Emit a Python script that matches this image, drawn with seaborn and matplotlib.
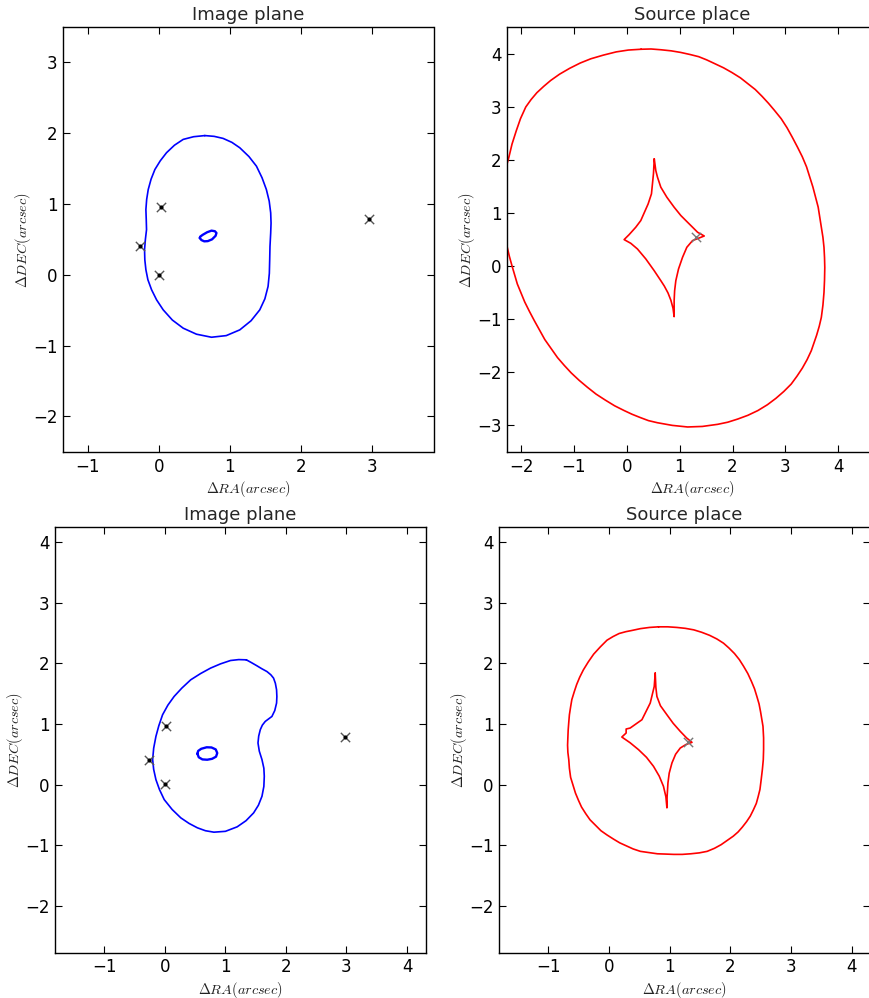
import numpy as np
import pandas as pd
import matplotlib
matplotlib.use("Agg")
import matplotlib.pyplot as plt
from matplotlib.ticker import MultipleLocator
import seaborn as sns

# ---------------- data ----------------
# Top row, image plane: critical curves
tl_outer_x = [0.648, 0.78, 0.906, 1.03, 1.141, 1.27, 1.376, 1.455, 1.516, 1.556, 1.577, 1.582, 1.577, 1.567,
              1.563, 1.558, 1.540, 1.495, 1.423, 1.30, 1.141, 0.95, 0.742, 0.53, 0.343, 0.19, 0.061, -0.032,
              -0.103, -0.155, -0.183, -0.198, -0.202, -0.19, -0.174, -0.178, -0.183, -0.172, -0.150, -0.11,
              -0.056, 0.02, 0.108, 0.22, 0.343, 0.49]
tl_outer_y = [1.966, 1.955, 1.926, 1.87, 1.794, 1.67, 1.534, 1.37, 1.204, 1.04, 0.874, 0.73, 0.590, 0.40,
              0.212, 0.02, -0.165, -0.34, -0.496, -0.65, -0.779, -0.86, -0.883, -0.84, -0.755, -0.64, -0.496,
              -0.355, -0.212, -0.07, 0.071, 0.21, 0.354, 0.50, 0.637, 0.78, 0.921, 1.065, 1.204, 1.35, 1.487,
              1.61, 1.724, 1.83, 1.912, 1.95]
tl_inner_x = [0.577, 0.60, 0.64, 0.69, 0.75, 0.80, 0.812, 0.79, 0.742, 0.68, 0.62, 0.585]
tl_inner_y = [0.519, 0.49, 0.472, 0.475, 0.50, 0.55, 0.59, 0.615, 0.623, 0.60, 0.565, 0.54]
tl_img_x = [-0.268, 0.023, 0.0, 2.958]
tl_img_y = [0.401, 0.958, 0.0, 0.788]

# Top row, source plane: caustics
tr_outer_x = [0.27, 0.46, 0.65, 0.84, 1.02, 1.20, 1.36, 1.51, 1.66, 1.83, 1.99, 2.15, 2.29, 2.43, 2.56, 2.68,
              2.79, 2.92, 3.03, 3.13, 3.23, 3.32, 3.40, 3.46, 3.52, 3.57, 3.62, 3.65, 3.68, 3.71, 3.73, 3.74,
              3.745, 3.74, 3.73, 3.71, 3.68, 3.64, 3.59, 3.49, 3.41, 3.32, 3.22, 3.11, 2.97, 2.82, 2.66, 2.48,
              2.29, 2.10, 1.91, 1.72, 1.43, 1.15, 0.86, 0.58, 0.41, 0.25, 0.10, -0.05, -0.23, -0.41, -0.58,
              -0.745, -0.90, -1.05, -1.18, -1.31, -1.43, -1.55, -1.65, -1.75, -1.84, -1.93, -2.00, -2.07,
              -2.12, -2.17, -2.22, -2.26, -2.30, -2.33, -2.35, -2.36, -2.355, -2.33, -2.29, -2.23, -2.17,
              -2.09, -2.01, -1.91, -1.81, -1.70, -1.57, -1.44, -1.27, -1.08, -0.88, -0.68, -0.44, -0.20, 0.03]
tr_outer_y = [4.09, 4.095, 4.08, 4.06, 4.03, 3.99, 3.95, 3.89, 3.82, 3.74, 3.65, 3.55, 3.44, 3.33, 3.20, 3.07,
              2.94, 2.78, 2.61, 2.43, 2.24, 2.06, 1.87, 1.68, 1.49, 1.30, 1.11, 0.92, 0.73, 0.54, 0.35, 0.16,
              -0.03, -0.27, -0.50, -0.74, -0.97, -1.14, -1.31, -1.60, -1.77, -1.93, -2.08, -2.23, -2.37, -2.50,
              -2.62, -2.73, -2.82, -2.89, -2.95, -2.99, -3.03, -3.04, -3.01, -2.96, -2.92, -2.86, -2.80, -2.73,
              -2.64, -2.53, -2.42, -2.29, -2.16, -2.02, -1.88, -1.73, -1.56, -1.39, -1.21, -1.03, -0.86, -0.68,
              -0.51, -0.34, -0.17, 0.0, 0.18, 0.35, 0.55, 0.75, 0.95, 1.15, 1.38, 1.60, 1.83, 2.05, 2.30, 2.55,
              2.78, 3.00, 3.14, 3.27, 3.39, 3.50, 3.62, 3.73, 3.83, 3.91, 3.98, 4.04, 4.075]
tr_inner_x = [0.52, 0.549, 0.581, 0.644, 0.758, 0.896, 1.023, 1.149, 1.25, 1.339, 1.465, 1.244, 1.136, 1.055,
              0.979, 0.928, 0.905, 0.896, 0.896, 0.875, 0.835, 0.78, 0.71, 0.644, 0.518, 0.36, 0.202, 0.076,
              -0.05, 0.044, 0.17, 0.265, 0.404, 0.467, 0.505]
tr_inner_y = [2.02, 1.80, 1.675, 1.486, 1.297, 1.108, 0.951, 0.825, 0.725, 0.636, 0.565, 0.478, 0.352, 0.163,
              -0.057, -0.278, -0.47, -0.656, -0.958, -0.80, -0.65, -0.51, -0.38, -0.278, -0.089, 0.132, 0.32,
              0.427, 0.497, 0.59, 0.73, 0.856, 1.17, 1.36, 1.74]
tr_src_x = [1.31]
tr_src_y = [0.555]

# Bottom row, image plane
bl_outer_x = [1.346, 1.43, 1.522, 1.60, 1.686, 1.75, 1.795, 1.825, 1.845, 1.85, 1.845, 1.815, 1.768, 1.71,
              1.658, 1.61, 1.576, 1.55, 1.538, 1.56, 1.604, 1.635, 1.642, 1.635, 1.604, 1.545, 1.466, 1.34,
              1.194, 1.0, 0.81, 0.67, 0.537, 0.40, 0.263, 0.12, -0.011, -0.09, -0.148, -0.185, -0.202, -0.185,
              -0.148, -0.10, -0.038, 0.05, 0.153, 0.28, 0.427, 0.59, 0.755, 0.92, 1.084, 1.22]
bl_outer_y = [2.056, 2.01, 1.957, 1.91, 1.863, 1.81, 1.755, 1.67, 1.562, 1.45, 1.344, 1.22, 1.123, 1.08, 1.041,
              0.98, 0.905, 0.80, 0.686, 0.55, 0.411, 0.27, 0.137, -0.03, -0.192, -0.34, -0.466, -0.595, -0.696,
              -0.77, -0.784, -0.76, -0.712, -0.64, -0.548, -0.41, -0.247, -0.08, 0.082, 0.25, 0.411, 0.60,
              0.794, 0.97, 1.151, 1.31, 1.453, 1.59, 1.727, 1.83, 1.92, 1.99, 2.045, 2.06]
bl_inner_x = [0.537, 0.56, 0.62, 0.70, 0.78, 0.845, 0.865, 0.84, 0.77, 0.69, 0.60, 0.55]
bl_inner_y = [0.51, 0.45, 0.415, 0.41, 0.425, 0.46, 0.52, 0.58, 0.612, 0.615, 0.59, 0.555]
bl_img_x = [-0.258, 0.016, 0.0, 2.97]
bl_img_y = [0.41, 0.96, 0.01, 0.79]

# Bottom row, source plane
br_outer_x = [0.82, 0.97, 1.12, 1.26, 1.40, 1.53, 1.66, 1.78, 1.89, 1.98, 2.07, 2.15, 2.22, 2.29, 2.35, 2.40,
              2.44, 2.475, 2.50, 2.52, 2.54, 2.55, 2.55, 2.545, 2.53, 2.51, 2.49, 2.46, 2.43, 2.38, 2.33, 2.27,
              2.20, 2.13, 2.05, 1.95, 1.85, 1.74, 1.62, 1.49, 1.35, 1.21, 1.07, 0.94, 0.80, 0.66, 0.52, 0.40,
              0.29, 0.18, 0.08, -0.03, -0.13, -0.22, -0.31, -0.38, -0.45, -0.50, -0.55, -0.59, -0.63, -0.65,
              -0.66, -0.675, -0.68, -0.675, -0.67, -0.66, -0.65, -0.63, -0.61, -0.57, -0.53, -0.48, -0.42,
              -0.34, -0.25, -0.14, -0.03, 0.07, 0.17, 0.28, 0.38, 0.52, 0.67]
br_outer_y = [2.60, 2.60, 2.59, 2.575, 2.55, 2.51, 2.46, 2.40, 2.33, 2.25, 2.16, 2.06, 1.95, 1.83, 1.70, 1.58,
              1.45, 1.33, 1.20, 1.08, 0.96, 0.77, 0.58, 0.41, 0.25, 0.08, -0.08, -0.20, -0.31, -0.42, -0.52,
              -0.61, -0.70, -0.78, -0.85, -0.92, -0.99, -1.05, -1.10, -1.125, -1.14, -1.15, -1.15, -1.145,
              -1.14, -1.12, -1.10, -1.06, -1.01, -0.96, -0.90, -0.83, -0.76, -0.67, -0.58, -0.48, -0.37, -0.26,
              -0.14, -0.01, 0.12, 0.27, 0.41, 0.53, 0.65, 0.78, 0.90, 1.03, 1.15, 1.28, 1.40, 1.53, 1.65, 1.77,
              1.89, 2.02, 2.15, 2.27, 2.38, 2.44, 2.49, 2.52, 2.54, 2.57, 2.59]
br_inner_x = [0.764, 0.775, 0.792, 0.85, 0.957, 1.06, 1.177, 1.28, 1.37, 1.27, 1.177, 1.10, 1.04, 0.995, 0.974,
              0.96, 0.957, 0.94, 0.90, 0.83, 0.736, 0.62, 0.489, 0.35, 0.214, 0.285, 0.285, 0.351, 0.545, 0.682,
              0.748]
br_inner_y = [1.837, 1.60, 1.452, 1.30, 1.151, 1.01, 0.877, 0.77, 0.696, 0.66, 0.603, 0.50, 0.357, 0.19, 0.028,
              -0.20, -0.383, -0.20, -0.028, 0.14, 0.301, 0.45, 0.576, 0.69, 0.784, 0.85, 0.916, 0.932, 1.069,
              1.344, 1.617]
br_src_x = [1.31]
br_src_y = [0.71]

titles = ["Image plane", "Source place", "Image plane", "Source place"]
xlabel = r"$\Delta RA(arcsec)$"
ylabel = r"$\Delta DEC(arcsec)$"

# ---------------- style ----------------
sns.set_style("white")
plt.rcParams.update({
    "font.family": ["DejaVu Sans"],
    "mathtext.fontset": "cm",
    "axes.edgecolor": "black",
    "axes.linewidth": 1.0,
    "xtick.color": "black",
    "ytick.color": "black",
})

fig = plt.figure(figsize=(8.69, 9.98), dpi=100)

W, H = 869.0, 998.0


def make_ax(left_px, top_px, xlim, ylim):
    ax = fig.add_axes([left_px / W, 1 - (top_px + 425.4) / H, 370.5 / W, 425.4 / H])
    ax.set_xlim(*xlim)
    ax.set_ylim(*ylim)
    ax.xaxis.set_major_locator(MultipleLocator(1))
    ax.yaxis.set_major_locator(MultipleLocator(1))
    ax.tick_params(direction="in", top=True, right=True, length=5, width=0.8,
                   labelsize=12, pad=4, bottom=True, left=True)
    for s in ax.spines.values():
        s.set_visible(True)
        s.set_color("black")
        s.set_linewidth(1.0)
    return ax


def closed(ax, xs, ys, color, lw):
    x = np.append(np.asarray(xs, float), xs[0])
    y = np.append(np.asarray(ys, float), ys[0])
    sns.lineplot(x=x, y=y, sort=False, estimator=None, color=color, lw=lw, ax=ax)


def img_marks(ax, xs, ys):
    sns.scatterplot(x=xs, y=ys, marker="x", s=45, color="#555555", linewidth=1.0, ax=ax, zorder=5)
    sns.scatterplot(x=xs, y=ys, marker="o", s=9, color="black", linewidth=0, ax=ax, zorder=6)


def src_marks(ax, xs, ys):
    sns.scatterplot(x=xs, y=ys, marker="x", s=45, color="#777777", linewidth=1.0, ax=ax, zorder=5)


def labels(ax, title):
    ax.set_title(title, fontsize=13, pad=5)
    ax.set_xlabel(xlabel, fontsize=10.3, labelpad=2.5, color="#222222")
    ax.set_ylabel(ylabel, fontsize=10.3, labelpad=0, color="#222222")


# Top-left
ax1 = make_ax(63, 27, (-1.352, 3.873), (-2.51, 3.5))
closed(ax1, tl_outer_x, tl_outer_y, "blue", 1.2)
closed(ax1, tl_inner_x, tl_inner_y, "blue", 1.7)
img_marks(ax1, tl_img_x, tl_img_y)
labels(ax1, titles[0])

# Top-right
ax2 = make_ax(507, 27, (-2.265, 4.742), (-3.52, 4.51))
closed(ax2, tr_outer_x, tr_outer_y, "red", 1.2)
closed(ax2, tr_inner_x, tr_inner_y, "red", 1.2)
src_marks(ax2, tr_src_x, tr_src_y)
labels(ax2, titles[1])

# Bottom-left
ax3 = make_ax(55.3, 527.3, (-1.81, 4.31), (-2.77, 4.24))
closed(ax3, bl_outer_x, bl_outer_y, "blue", 1.2)
closed(ax3, bl_inner_x, bl_inner_y, "blue", 1.7)
img_marks(ax3, bl_img_x, bl_img_y)
labels(ax3, titles[2])

# Bottom-right
ax4 = make_ax(499.3, 527.3, (-1.805, 4.30), (-2.77, 4.24))
closed(ax4, br_outer_x, br_outer_y, "red", 1.2)
closed(ax4, br_inner_x, br_inner_y, "red", 1.2)
src_marks(ax4, br_src_x, br_src_y)
labels(ax4, titles[3])

fig.savefig("out.png", dpi=100)
